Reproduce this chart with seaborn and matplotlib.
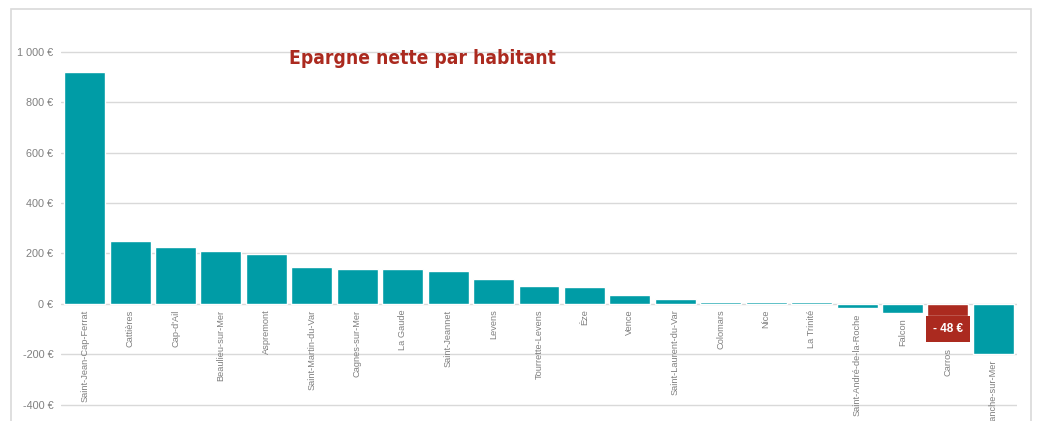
import matplotlib
matplotlib.use("Agg")
from matplotlib import pyplot as plt
from matplotlib import font_manager
from matplotlib.patches import Rectangle
import pandas as pd
import seaborn as sns

communes = ["Saint-Jean-Cap-Ferrat", "Cattières", "Cap-d'Ail", "Beaulieu-sur-Mer",
            "Aspremont", "Saint-Martin-du-Var", "Cagnes-sur-Mer", "La Gaude",
            "Saint-Jeannet", "Levens", "Tourrette-Levens", "Èze", "Vence",
            "Saint-Laurent-du-Var", "Colomars", "Nice", "La Trinité",
            "Saint-André-de-la-Roche", "Falcon", "Carros", "Villefranche-sur-Mer"]
epargne = [919, 250, 226, 210, 198, 146, 139, 139, 130, 99, 71, 67, 36, 20, 9, 6, 6,
           -15, -36, -48, -197]
highlight = "Carros"
y_ticks = [-400, -200, 0, 200, 400, 600, 800, 1000]

TEAL = "#009ca6"
RED = "#ab2a1f"
GREY = "#808080"
GRID = "#d9d9d9"

df = pd.DataFrame({'commune': communes, 'epargne': epargne})
palette = {c: (RED if c == highlight else TEAL) for c in communes}

sns.set_style("white")
plt.rcParams['font.family'] = ['Liberation Sans', 'DejaVu Sans']

# a narrow bold face for the title, if one is around
title_props = font_manager.FontProperties(family='DejaVu Sans', weight='bold', size=13)
narrow = [f.fname for f in font_manager.fontManager.ttflist
          if ('Condensed-Bold' in f.fname or 'Narrow-Bold' in f.fname)
          and 'Oblique' not in f.fname and 'Italic' not in f.fname]
if narrow:
    title_props = font_manager.FontProperties(fname=sorted(narrow)[0], size=13.8)

fig = plt.figure(figsize=(10.37, 4.21), dpi=100)
ax = fig.add_axes([61 / 1037, 14 / 421, 956 / 1037, 357.5 / 421])

# light frame around the whole chart
fig.patches.append(Rectangle((11 / 1037, -0.1), 1020 / 1037, 1.1 - 9 / 421,
                             transform=fig.transFigure, fill=False,
                             edgecolor=GRID, linewidth=1.2))

sns.barplot(data=df, x='commune', y='epargne', hue='commune', palette=palette,
            legend=False, width=0.9, saturation=1, ax=ax, zorder=3)

ax.set_ylim(-408, 1008)
ax.set_yticks(y_ticks)
ax.set_yticklabels(["{:,} €".format(t).replace(",", " ") for t in y_ticks],
                   color=GREY, fontsize=7.8)
ax.tick_params(axis='y', left=False, pad=2)
ax.set_xticks([])
ax.set_xlabel("")
ax.set_ylabel("")
ax.grid(axis='y', color=GRID, linewidth=1, zorder=0)
for pos in ['right', 'top', 'bottom', 'left']:
    ax.spines[pos].set_visible(False)
ax.set_xlim(-0.52, len(communes) - 0.48)

# category labels sit just below the end of each bar
for i, (name, val) in enumerate(zip(communes, epargne)):
    gap = -4
    if name == highlight:
        ax.annotate("- {} €".format(abs(val)), (i, min(val, 0)), xytext=(0, -5),
                    textcoords='offset points', ha='center', va='top',
                    color='white', fontsize=8.5, fontweight='bold',
                    bbox=dict(boxstyle='square,pad=0.6', facecolor=RED, edgecolor='none'),
                    zorder=5)
        gap = -23
    ax.annotate(name, (i, min(val, 0)), xytext=(0, gap), textcoords='offset points',
                rotation=90, ha='center', va='top', color=GREY, fontsize=6.7,
                annotation_clip=False)

fig.text(422 / 1037, 1 - 59 / 421, "Epargne nette par habitant",
         fontproperties=title_props, color=RED, ha='center', va='center')

fig.savefig("out.png", dpi=100)
